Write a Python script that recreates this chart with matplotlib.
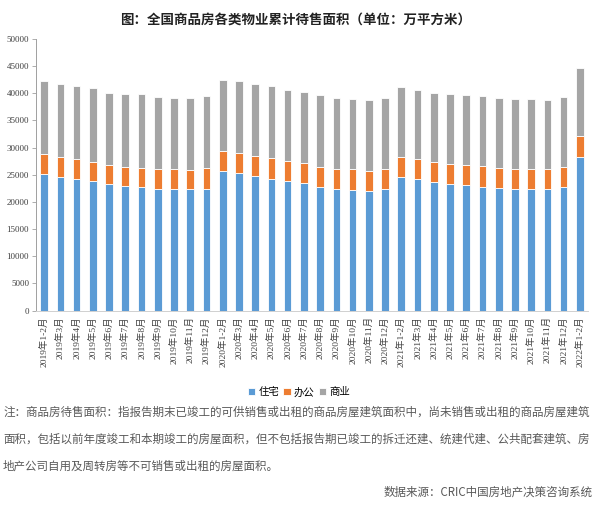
import numpy as np
import matplotlib.pyplot as plt

plt.rcParams['font.family'] = ['Noto Sans CJK SC', 'DejaVu Sans']

months = ['2019年1-2月', '2019年3月', '2019年4月', '2019年5月', '2019年6月', '2019年7月',
          '2019年8月', '2019年9月', '2019年10月', '2019年11月', '2019年12月',
          '2020年1-2月', '2020年3月', '2020年4月', '2020年5月', '2020年6月', '2020年7月',
          '2020年8月', '2020年9月', '2020年10月', '2020年11月', '2020年12月',
          '2021年1-2月', '2021年3月', '2021年4月', '2021年5月', '2021年6月', '2021年7月',
          '2021年8月', '2021年9月', '2021年10月', '2021年11月', '2021年12月',
          '2022年1-2月']

# cumulative tops
top_zhuzhai = [25200, 24640, 24220, 23850, 23240, 22870, 22750, 22440, 22380, 22330, 22440,
               25690, 25270, 24770, 24280, 23850, 23450, 22750, 22380, 22200, 22010, 22380,
               24640, 24160, 23720, 23300, 23060, 22800, 22620, 22380, 22380, 22330, 22750,
               28330]
top_bangong = [28760, 28270, 27840, 27400, 26740, 26490, 26300, 26060, 26000, 25880, 26190,
               29370, 29000, 28510, 28140, 27530, 27160, 26490, 26060, 26000, 25690, 26060,
               28330, 27840, 27400, 26980, 26800, 26610, 26300, 26060, 26060, 26000, 26490,
               32180]
top_shangye = [42180, 41690, 41320, 40900, 40090, 39910, 39790, 39350, 39110, 39110, 39540,
               42480, 42180, 41690, 41270, 40640, 40280, 39610, 39050, 38870, 38690, 39050,
               41080, 40530, 40090, 39790, 39670, 39430, 39170, 38870, 38870, 38690, 39300,
               44690]

zhuzhai = np.array(top_zhuzhai)
bangong = np.array(top_bangong) - zhuzhai
shangye = np.array(top_shangye) - np.array(top_bangong)

fig = plt.figure(figsize=(6, 5.08), dpi=100)
ax = fig.add_axes([0.06, 0.3884, 0.92, 0.5354])

x = np.arange(len(months))
w = 0.47
ax.bar(x, zhuzhai, w, color='#5B9BD5', edgecolor='white', linewidth=0.6, label='住宅')
ax.bar(x, bangong, w, bottom=zhuzhai, color='#ED7D31', edgecolor='white', linewidth=0.6, label='办公')
ax.bar(x, shangye, w, bottom=zhuzhai + bangong, color='#A5A5A5', edgecolor='white', linewidth=0.6, label='商业')

ax.set_xlim(-0.5, len(months) - 0.5)
ax.set_ylim(0, 50000)
ax.set_yticks(np.arange(0, 50001, 5000))
ax.set_yticklabels([str(v) for v in range(0, 50001, 5000)],
                   family=['Liberation Serif'], fontsize=6.5, color='#404040')
ax.set_xticks(x)
ax.set_xticklabels(months, rotation=90, fontsize=6.8, color='#404040',
                   family=['Liberation Serif', 'Noto Sans CJK SC'])
ax.tick_params(axis='x', length=0, pad=4)
ax.tick_params(axis='y', length=3, width=0.6, color='#A0A0A0', pad=2)
for s in ['top', 'right']:
    ax.spines[s].set_visible(False)
ax.spines['left'].set_color('#A0A0A0')
ax.spines['bottom'].set_color('#D0D0D0')
ax.spines['left'].set_linewidth(0.7)
ax.spines['bottom'].set_linewidth(0.7)

fig.legend(loc='center', bbox_to_anchor=(0.498, 0.228), ncol=3, frameon=False,
           handlelength=0.7, handleheight=0.7, handletextpad=0.3, columnspacing=0.4,
           prop={'family': ['Liberation Serif', 'Noto Sans CJK SC'], 'size': 7.5})

fig.text(0.492, 1 - 20 / 508, '图：全国商品房各类物业累计待售面积（单位：万平方米）',
         ha='center', va='center', fontsize=9.7, fontweight='bold', color='#222222')

notes = ['注：商品房待售面积：指报告期末已竣工的可供销售或出租的商品房屋建筑面积中，尚未销售或出租的商品房屋建筑',
         '面积，包括以前年度竣工和本期竣工的房屋面积，但不包括报告期已竣工的拆迁还建、统建代建、公共配套建筑、房',
         '地产公司自用及周转房等不可销售或出租的房屋面积。']
ys = [412, 439, 466]
for line, yy in zip(notes, ys):
    fig.text(0.005, 1 - yy / 508, line, ha='left', va='center', fontsize=8.3, color='#595959')
fig.text(0.988, 1 - 492 / 508, '数据来源：CRIC中国房地产决策咨询系统', ha='right', va='center',
         fontsize=8.3, color='#595959')

fig.savefig('out.png', dpi=100)
